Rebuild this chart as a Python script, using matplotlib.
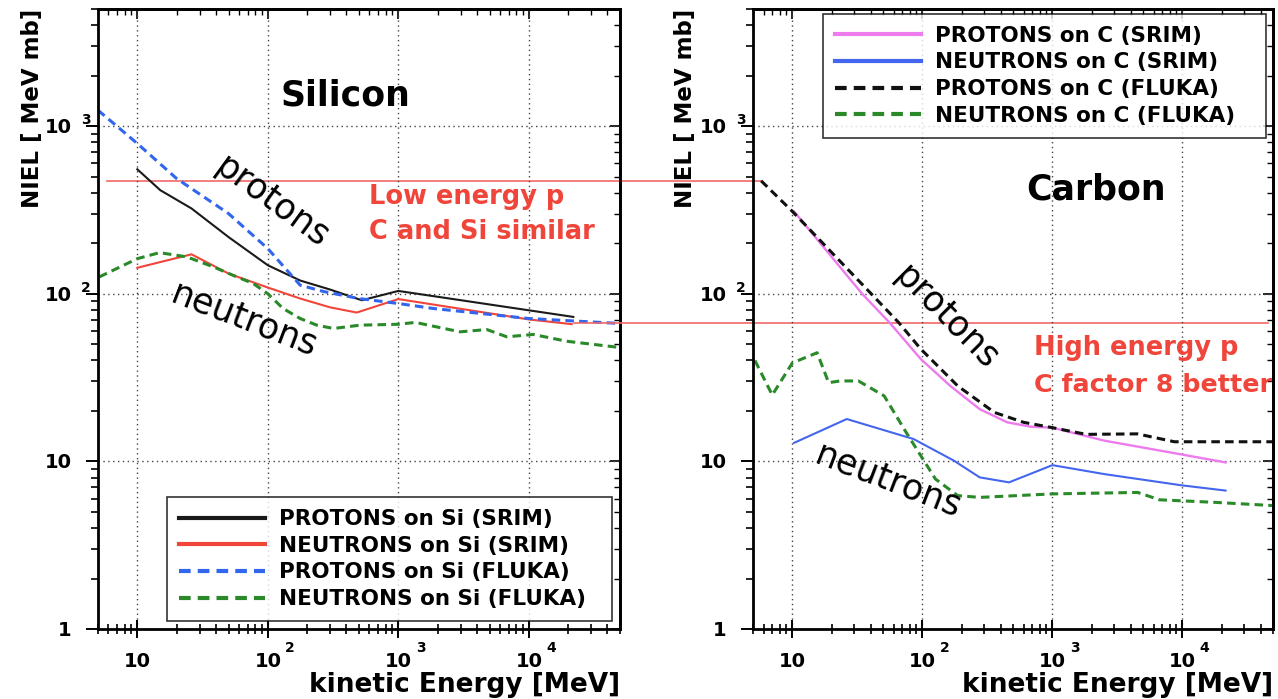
import matplotlib.pyplot as plt
from matplotlib.ticker import LogLocator, NullFormatter
from matplotlib.transforms import offset_copy

plt.rcParams['font.family'] = 'DejaVu Sans'

# NIEL curves on silicon [MeV] / [MeV mb]
si_p_srim_e = [10, 15, 26, 50, 100, 177, 300, 525, 1000, 21900]
si_p_srim_niel = [553, 415, 323, 218, 148, 120, 106, 91.5, 104, 72.8]

si_n_srim_e = [10, 26, 50, 100, 177, 300, 480, 1000, 10000, 21300]
si_n_srim_niel = [143, 172, 132, 109, 93.7, 83, 77.3, 93, 70.3, 65.9]

si_p_fluka_e = [5, 10, 20, 50, 100, 177, 270, 500, 1000, 1860, 10000, 50000]
si_p_fluka_niel = [1245, 788, 487, 301, 186, 112.5, 103, 93.7, 87.5, 81.7, 71.2, 66.5]

si_n_fluka_e = [5.1, 10, 14.8, 24, 38, 54, 77.5, 100, 131, 177, 237, 318,
                509, 1000, 1350, 2970, 4760, 6770, 10800, 19500, 50000]
si_n_fluka_niel = [126, 162, 176, 166, 145, 129, 115, 100, 81.7, 71.2, 65, 62.1,
                   65, 65.8, 67.5, 59.3, 61.2, 55.4, 57.2, 52.1, 47.8]

# NIEL curves on carbon
c_p_srim_e = [10.3, 34.4, 56, 97.5, 164, 276, 450, 685, 1000, 2510, 9250, 21500]
c_p_srim_niel = [310, 100, 67.2, 40.7, 28.2, 20.5, 17.1, 16.1, 15.9, 13.3, 11.1, 9.86]

c_n_srim_e = [10.3, 26.2, 85.5, 175, 276, 464, 1000, 2510, 9860, 21500]
c_n_srim_niel = [12.9, 17.9, 13.6, 10.1, 8.03, 7.5, 9.5, 8.4, 7.2, 6.7]

c_p_fluka_e = [5.75, 10, 40.4, 65.9, 97.5, 187, 358, 602, 1000, 1820, 4500, 8670, 50000]
c_p_fluka_niel = [472, 310, 100, 67.2, 46.7, 28.2, 19.6, 17.1, 15.9, 14.5, 14.6, 13.1, 13.1]

c_n_fluka_e = [5.15, 7.0, 10, 15.5, 19, 23.3, 32.2, 50.8, 75, 126, 187, 276,
               1000, 4520, 6680, 17700, 50000]
c_n_fluka_niel = [40, 24.9, 38.7, 44.5, 29.5, 30.2, 30.2, 24.6, 14.9, 7.85, 6.25, 6.1,
                  6.4, 6.53, 5.9, 5.7, 5.45]

# reference levels drawn across both panels
low_energy_level = 470
high_energy_level = 66.6

# decade tick labels
x_tick_vals = [10, 100, 1000, 10000]
x_tick_base = ['10', '10', '10', '10']
x_tick_exp = ['', '2', '3', '4']
y_tick_vals = [1, 10, 100, 1000]
y_tick_base = ['1', '10', '10', '10']
y_tick_exp = ['', '', '2', '3']

RED = '#f0453a'
LINE_RED = '#f26868'

fig = plt.figure(figsize=(12.78, 6.99), dpi=100)
ax1 = fig.add_axes([0.0767, 0.1001, 0.4085, 0.8870])
ax2 = fig.add_axes([0.5894, 0.1001, 0.4069, 0.8870])


def style_axes(ax):
    ax.set_xscale('log')
    ax.set_yscale('log')
    ax.set_xlim(5, 5e4)
    ax.set_ylim(1, 5000)
    ax.patch.set_visible(False)
    for s in ax.spines.values():
        s.set_linewidth(2.0)
    for axis in (ax.xaxis, ax.yaxis):
        axis.set_major_locator(LogLocator(base=10, numticks=10))
        axis.set_minor_locator(LogLocator(base=10, subs=range(2, 10), numticks=20))
        axis.set_major_formatter(NullFormatter())
        axis.set_minor_formatter(NullFormatter())
    ax.tick_params(axis='x', which='major', direction='inout', length=13, width=1.4)
    ax.tick_params(axis='x', which='minor', direction='inout', length=6.5, width=1.2)
    ax.tick_params(axis='y', which='major', direction='out', length=9, width=1.4)
    ax.tick_params(axis='y', which='minor', direction='out', length=5, width=1.2)
    ax.grid(which='major', color='#444444', linestyle=(0, (1, 2.5)), linewidth=1.0)

    # mirrored ticks on top and right, pointing inwards
    top = ax.secondary_xaxis('top')
    right = ax.secondary_yaxis('right')
    for sec, axis in ((top, top.xaxis), (right, right.yaxis)):
        axis.set_major_formatter(NullFormatter())
        axis.set_minor_formatter(NullFormatter())
        sec.tick_params(which='major', direction='in', length=7, width=1.2)
        sec.tick_params(which='minor', direction='in', length=4, width=1.0)
        for s in sec.spines.values():
            s.set_linewidth(2.0)

    # decade labels, ROOT style with raised exponent
    xt = ax.get_xaxis_transform()
    yt = ax.get_yaxis_transform()
    for val, base, exp in zip(x_tick_vals, x_tick_base, x_tick_exp):
        ax.text(val, 0, base, transform=offset_copy(xt, fig=fig, y=-27.4, units='points'),
                ha='center', va='baseline', fontsize=14, fontweight='bold')
        if exp:
            ax.text(val, 0, exp,
                    transform=offset_copy(xt, fig=fig, x=12.5, y=-16.6, units='points'),
                    ha='left', va='baseline', fontsize=10, fontweight='bold')
    for val, base, exp in zip(y_tick_vals, y_tick_base, y_tick_exp):
        ax.text(0, val, base, transform=offset_copy(yt, fig=fig, x=-19.0, y=-5, units='points'),
                ha='right', va='baseline', fontsize=14, fontweight='bold')
        if exp:
            ax.text(0, val, exp,
                    transform=offset_copy(yt, fig=fig, x=-12.2, y=1.5, units='points'),
                    ha='left', va='baseline', fontsize=10, fontweight='bold')

    ax.set_xlabel('kinetic Energy [MeV]', loc='right', fontsize=19, fontweight='bold')
    ax.xaxis.set_label_coords(1.0, -0.069)
    ax.set_ylabel('NIEL [ MeV mb]', loc='top', fontsize=16.5, fontweight='bold')


style_axes(ax1)
style_axes(ax2)
ax1.yaxis.set_label_coords(-0.104, 1.0)
ax2.yaxis.set_label_coords(-0.108, 1.0)

# silicon
ax1.plot(si_p_srim_e, si_p_srim_niel, color='#1a1a1a', lw=1.5, label='PROTONS on Si (SRIM)')
ax1.plot(si_n_srim_e, si_n_srim_niel, color='#f2453a', lw=1.5, label='NEUTRONS on Si (SRIM)')
ax1.plot(si_p_fluka_e, si_p_fluka_niel, color='#3366ee', lw=2.2, dashes=(2.8, 1.7),
         label='PROTONS on Si (FLUKA)')
ax1.plot(si_n_fluka_e, si_n_fluka_niel, color='#2a8a2a', lw=2.2, dashes=(2.8, 1.7),
         label='NEUTRONS on Si (FLUKA)')

# carbon
ax2.plot(c_p_srim_e, c_p_srim_niel, color='#ee7bee', lw=1.7, label='PROTONS on C (SRIM)')
ax2.plot(c_n_srim_e, c_n_srim_niel, color='#4466ee', lw=1.5, label='NEUTRONS on C (SRIM)')
ax2.plot(c_p_fluka_e, c_p_fluka_niel, color='#111111', lw=2.2, dashes=(2.8, 1.7),
         label='PROTONS on C (FLUKA)')
ax2.plot(c_n_fluka_e, c_n_fluka_niel, color='#2a8a2a', lw=2.2, dashes=(2.8, 1.7),
         label='NEUTRONS on C (FLUKA)')

# comparison levels spanning the two panels
ax1.plot([5.86, 6.0e5], [low_energy_level] * 2, color=LINE_RED, lw=1.2, clip_on=False, zorder=1)
ax2.plot([0.21, 4.55e4], [high_energy_level] * 2, color=LINE_RED, lw=1.2, clip_on=False, zorder=1)

legend_kw = dict(mode='expand', prop={'size': 15.5, 'weight': 'bold'}, frameon=True,
                 fancybox=False, edgecolor='black', handlelength=4.0, handletextpad=0.65,
                 borderpad=0.55, labelspacing=0.31, borderaxespad=0)
leg1 = ax1.legend(loc='lower left', bbox_to_anchor=(0.132, 0.013, 0.853, 0.198), **legend_kw)
leg2 = ax2.legend(loc='upper left', bbox_to_anchor=(0.134, 0.794, 0.852, 0.198), **legend_kw)
for leg in (leg1, leg2):
    leg.get_frame().set_linewidth(1.2)
    for line in leg.get_lines():
        line.set_linewidth(3.0)

# panel titles
ax1.text(0.473, 0.845, 'Silicon', transform=ax1.transAxes, ha='center', va='baseline',
         fontsize=25, fontweight='bold')
ax2.text(0.660, 0.692, 'Carbon', transform=ax2.transAxes, ha='center', va='baseline',
         fontsize=25, fontweight='bold')

# curve labels
ax1.text(0.333, 0.689, 'protons', transform=ax1.transAxes, fontsize=25, rotation=-36,
         ha='center', va='center', rotation_mode='anchor')
ax1.text(0.280, 0.498, 'neutrons', transform=ax1.transAxes, fontsize=25, rotation=-21,
         ha='center', va='center', rotation_mode='anchor')
ax2.text(0.371, 0.502, 'protons', transform=ax2.transAxes, fontsize=25, rotation=-45,
         ha='center', va='center', rotation_mode='anchor')
ax2.text(0.261, 0.239, 'neutrons', transform=ax2.transAxes, fontsize=25, rotation=-21,
         ha='center', va='center', rotation_mode='anchor')

# comments in red
ax1.text(0.5197, 0.6855, 'Low energy p', transform=ax1.transAxes, color=RED,
         fontsize=18.5, fontweight='bold', va='baseline')
ax1.text(0.5197, 0.629, 'C and Si similar', transform=ax1.transAxes, color=RED,
         fontsize=18.5, fontweight='bold', va='baseline')
ax2.text(0.540, 0.442, 'High energy p', transform=ax2.transAxes, color=RED,
         fontsize=18.5, fontweight='bold', va='baseline')
ax2.text(0.540, 0.3827, 'C factor 8 better', transform=ax2.transAxes, color=RED,
         fontsize=18.3, fontweight='bold', va='baseline')

fig.savefig('out.png', dpi=100)
